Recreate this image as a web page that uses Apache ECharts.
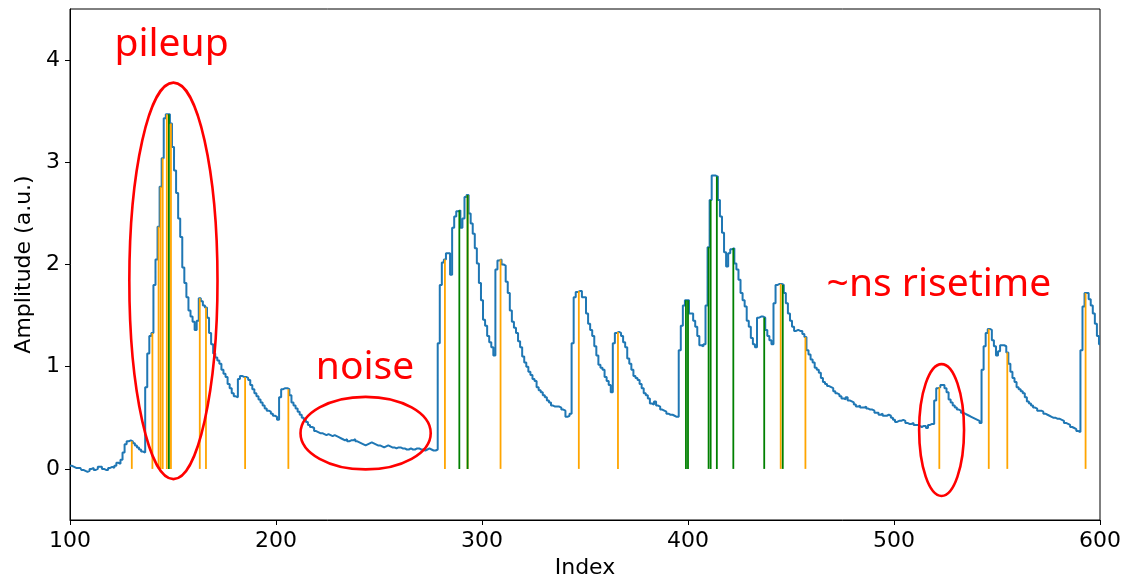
<!DOCTYPE html>
<html>
<head>
<meta charset="utf-8">
<script src="https://cdn.jsdelivr.net/npm/echarts@6/dist/echarts.min.js"></script>
<style>
  html, body { margin: 0; padding: 0; background: #fff; }
  #chart { width: 1125px; height: 580px; }
</style>
</head>
<body>
<div id="chart"></div>
<script>
// Sampled waveform, one value per index starting at firstIndex
const firstIndex = 100;
const amplitude = [
  0.03, 0.03, 0.02, 0.01, 0.01, 0.01, -0.01, -0.02, -0.03, -0.02,
  0.00, 0.01, -0.01, 0.00, 0.02, 0.02, 0.00, -0.01, -0.01, 0.01,
  0.02, 0.01, 0.03, 0.06, 0.05, 0.09, 0.16, 0.24, 0.27, 0.28,
  0.27, 0.25, 0.23, 0.21, 0.19, 0.17, 0.16, 0.80, 1.13, 1.30,
  1.33, 1.80, 2.05, 2.37, 2.76, 3.04, 3.43, 3.47, 3.47, 3.38,
  3.15, 2.92, 2.70, 2.45, 2.27, 1.97, 1.82, 1.68, 1.55, 1.49,
  1.44, 1.36, 1.45, 1.67, 1.64, 1.60, 1.58, 1.48, 1.33, 1.22,
  1.13, 1.09, 1.06, 1.03, 0.97, 0.93, 0.90, 0.83, 0.79, 0.74,
  0.71, 0.70, 0.88, 0.91, 0.90, 0.90, 0.89, 0.87, 0.82, 0.78,
  0.74, 0.71, 0.68, 0.65, 0.62, 0.59, 0.57, 0.56, 0.54, 0.52,
  0.51, 0.48, 0.70, 0.78, 0.79, 0.79, 0.78, 0.72, 0.65, 0.62,
  0.59, 0.56, 0.53, 0.50, 0.48, 0.46, 0.43, 0.41, 0.40, 0.37,
  0.36, 0.35, 0.35, 0.34, 0.33, 0.34, 0.33, 0.32, 0.33, 0.32,
  0.31, 0.30, 0.29, 0.28, 0.29, 0.27, 0.28, 0.28, 0.29, 0.27,
  0.26, 0.25, 0.24, 0.23, 0.24, 0.25, 0.26, 0.25, 0.24, 0.23,
  0.23, 0.22, 0.21, 0.22, 0.23, 0.22, 0.21, 0.21, 0.20, 0.21,
  0.21, 0.20, 0.20, 0.19, 0.19, 0.20, 0.19, 0.19, 0.20, 0.20,
  0.19, 0.19, 0.18, 0.19, 0.20, 0.19, 0.18, 0.18, 0.19, 1.23,
  1.80, 2.02, 2.05, 2.11, 2.11, 1.90, 2.36, 2.47, 2.52, 2.53,
  2.36, 2.45, 2.66, 2.68, 2.50, 2.40, 2.30, 2.16, 2.01, 1.82,
  1.65, 1.46, 1.40, 1.30, 1.24, 1.19, 1.11, 1.95, 2.04, 2.05,
  2.00, 1.99, 1.83, 1.72, 1.55, 1.44, 1.38, 1.33, 1.25, 1.19,
  1.10, 1.04, 1.00, 0.95, 0.92, 0.88, 0.86, 0.80, 0.77, 0.75,
  0.72, 0.70, 0.67, 0.65, 0.62, 0.61, 0.61, 0.61, 0.60, 0.58,
  0.57, 0.51, 0.52, 0.54, 1.23, 1.68, 1.73, 1.74, 1.74, 1.68,
  1.68, 1.52, 1.42, 1.36, 1.30, 1.20, 1.11, 1.02, 0.99, 0.97,
  0.90, 0.86, 0.82, 0.75, 1.23, 1.33, 1.34, 1.33, 1.30, 1.24,
  1.19, 1.08, 1.03, 0.97, 0.91, 0.89, 0.87, 0.83, 0.79, 0.74,
  0.72, 0.69, 0.64, 0.63, 0.66, 0.62, 0.61, 0.58, 0.57, 0.56,
  0.54, 0.53, 0.53, 0.52, 0.51, 0.51, 1.16, 1.40, 1.60, 1.65,
  1.65, 1.52, 1.52, 1.45, 1.39, 1.30, 1.21, 1.20, 1.22, 1.60,
  2.17, 2.63, 2.87, 2.87, 2.86, 2.63, 2.47, 2.31, 2.12, 1.98,
  2.11, 2.15, 2.16, 2.01, 1.95, 1.85, 1.72, 1.65, 1.59, 1.45,
  1.39, 1.28, 1.22, 1.19, 1.48, 1.49, 1.49, 1.48, 1.36, 1.30,
  1.26, 1.22, 1.62, 1.80, 1.81, 1.81, 1.80, 1.72, 1.62, 1.52,
  1.45, 1.39, 1.35, 1.36, 1.35, 1.35, 1.32, 1.29, 1.16, 1.12,
  1.07, 1.04, 0.99, 0.97, 0.94, 0.89, 0.85, 0.83, 0.81, 0.80,
  0.79, 0.76, 0.74, 0.73, 0.71, 0.69, 0.68, 0.70, 0.67, 0.66,
  0.65, 0.63, 0.61, 0.62, 0.60, 0.60, 0.61, 0.59, 0.58, 0.58,
  0.57, 0.55, 0.55, 0.53, 0.54, 0.52, 0.52, 0.53, 0.52, 0.50,
  0.48, 0.46, 0.47, 0.47, 0.48, 0.47, 0.45, 0.44, 0.44, 0.45,
  0.43, 0.43, 0.42, 0.41, 0.42, 0.42, 0.40, 0.43, 0.44, 0.44,
  0.67, 0.79, 0.80, 0.82, 0.82, 0.79, 0.75, 0.68, 0.65, 0.62,
  0.60, 0.58, 0.57, 0.55, 0.54, 0.53, 0.52, 0.51, 0.50, 0.49,
  0.48, 0.47, 0.45, 0.97, 1.20, 1.33, 1.37, 1.36, 1.26, 1.20,
  1.11, 1.15, 1.21, 1.21, 1.20, 1.14, 1.03, 0.95, 0.89, 0.85,
  0.80, 0.78, 0.76, 0.74, 0.70, 0.66, 0.64, 0.62, 0.60, 0.59,
  0.57, 0.57, 0.56, 0.54, 0.53, 0.52, 0.51, 0.50, 0.50, 0.49,
  0.49, 0.48, 0.47, 0.45, 0.44, 0.43, 0.41, 0.40, 0.39, 0.37,
  0.36, 1.16, 1.59, 1.72, 1.72, 1.66, 1.60, 1.52, 1.42, 1.30,
  1.22
];

// Indices flagged by the two detectors
const orangeHits = [130, 140, 143, 144, 145, 147, 149, 163, 166, 185, 206, 282, 293,
                    309, 347, 366, 445, 457, 522, 546, 555, 593];
const greenHits = [148, 289, 293, 399, 400, 410, 411, 414, 422, 437, 446];

// Axis ticks
const xTicks = [100, 200, 300, 400, 500, 600];
const yTicks = [0, 1, 2, 3, 4];

// Hand-drawn notes (text + ring), given in data units
const noteLabels = ['pileup', 'noise', '~ns risetime'];
const noteAnchors = [[149.3, 4.15], [243.2, 0.99], [521.8, 1.80]];
const ringCentres = [[150.2, 1.84], [243.5, 0.35], [523.1, 0.38]];
const ringRadii = [[21.4, 1.94], [31.6, 0.355], [10.9, 0.645]];

const trace = amplitude.map((v, i) => [firstIndex + i, v]);
const stickData = idx => idx.map(i => [i, amplitude[i - firstIndex]]);

function stickRenderer(color) {
  return function (params, api) {
    const base = api.coord([api.value(0), 0]);
    const top = api.coord([api.value(0), api.value(1)]);
    return {
      type: 'line',
      shape: { x1: base[0], y1: base[1], x2: top[0], y2: top[1] },
      style: { stroke: color, lineWidth: 1.8 }
    };
  };
}

const tickFont = { fontSize: 22, color: '#000', fontFamily: 'DejaVu Sans' };

const chart = echarts.init(document.getElementById('chart'), null, { renderer: 'canvas' });

chart.setOption({
  animation: false,
  backgroundColor: '#fff',
  grid: {
    left: 70, right: 25, top: 9, bottom: 60,
    outerBoundsMode: 'none',
    containLabel: false,
    show: true, borderColor: '#000', borderWidth: 1
  },
  xAxis: {
    type: 'value',
    min: xTicks[0], max: xTicks[xTicks.length - 1], interval: 100,
    name: 'Index', nameLocation: 'middle', nameGap: 36,
    nameTextStyle: tickFont,
    axisLine: { onZero: false, lineStyle: { color: '#000', width: 1 } },
    axisTick: { length: 5, lineStyle: { color: '#000', width: 1 } },
    axisLabel: Object.assign({ margin: 10 }, tickFont),
    splitLine: { show: false }
  },
  yAxis: {
    type: 'value',
    min: -0.5, max: 4.5,
    name: 'Amplitude (a.u.)', nameLocation: 'middle', nameGap: 30,
    nameTextStyle: tickFont,
    axisLine: { onZero: false, lineStyle: { color: '#000', width: 1 } },
    axisTick: { length: 5, customValues: yTicks, lineStyle: { color: '#000', width: 1 } },
    axisLabel: Object.assign({ margin: 10, customValues: yTicks }, tickFont),
    splitLine: { show: false }
  },
  series: [
    {
      type: 'line',
      data: trace,
      step: 'middle',
      showSymbol: false,
      symbol: 'none',
      lineStyle: { color: '#1f77b4', width: 2 },
      z: 2
    },
    {
      type: 'custom',
      data: stickData(orangeHits),
      renderItem: stickRenderer('#ffa500'),
      clip: true,
      z: 3
    },
    {
      type: 'custom',
      data: stickData(greenHits),
      renderItem: stickRenderer('#008000'),
      clip: true,
      z: 4
    }
  ]
});

// Place the notes once the axes exist
const toPx = p => chart.convertToPixel({ gridIndex: 0 }, p);
const graphics = [];
ringCentres.forEach((c, k) => {
  const centre = toPx(c);
  const edge = toPx([c[0] + ringRadii[k][0], c[1] + ringRadii[k][1]]);
  graphics.push({
    type: 'ellipse',
    shape: { cx: centre[0], cy: centre[1], rx: edge[0] - centre[0], ry: centre[1] - edge[1] },
    style: { fill: 'none', stroke: '#ff0000', lineWidth: 2.6 },
    z: 100
  });
});
noteLabels.forEach((t, k) => {
  const p = toPx(noteAnchors[k]);
  graphics.push({
    type: 'text',
    x: p[0], y: p[1],
    style: {
      text: t, fill: '#ff0000', fontSize: 39, fontFamily: 'Noto Sans',
      align: 'center', verticalAlign: 'middle'
    },
    z: 101
  });
});
chart.setOption({ graphic: graphics });
</script>
</body>
</html>
